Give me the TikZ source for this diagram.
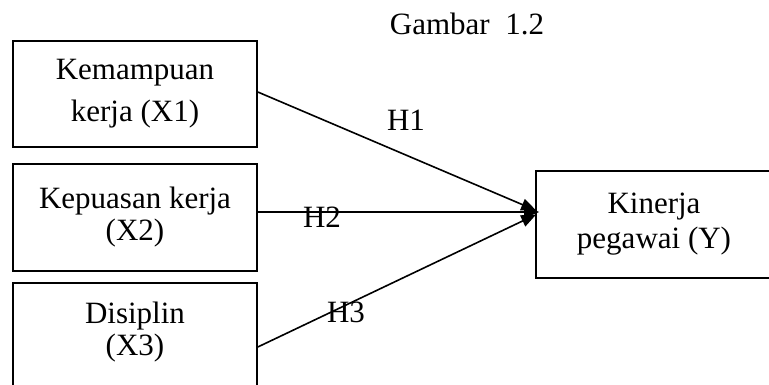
\documentclass[tikz,border=0pt]{standalone}
\usepackage{fontspec}
\setmainfont{Liberation Serif}
\usetikzlibrary{arrows.meta}
\begin{document}
\begin{tikzpicture}[x=1pt,y=-1pt,
  box/.style={draw=black,line width=1.6pt,rectangle,inner sep=0pt,align=center},
  lbl/.style={inner sep=0pt,anchor=base,font=\fontsize{31}{36}\selectfont},
  conn/.style={line width=1.6pt,-{Triangle[length=15pt,width=12pt]}}]
\useasboundingbox (0,0) rectangle (769,385);
\clip (0,0) rectangle (769,385);
\node[lbl] (title) at (467,35) {Gambar\ \ 1.2};
\node[box,minimum width=244pt,minimum height=106pt,font=\fontsize{31}{42}\selectfont] (b1) at (135,94) {Kemampuan\\kerja (X1)};
\node[box,minimum width=244pt,minimum height=107pt,font=\fontsize{31}{32}\selectfont] (b2) at (135,217.5) {Kepuasan kerja\\(X2)};
\node[box,minimum width=244pt,minimum height=112pt,text depth=21pt,font=\fontsize{31}{32}\selectfont] (b3) at (135,339) {Disiplin\\(X3)};
\node[box,minimum width=236pt,minimum height=107pt,font=\fontsize{31}{35}\selectfont] (y) at (654,224.5) {Kinerja\\pegawai (Y)};
\draw[conn] ([yshift=2pt]b1.east) -- ([xshift=1pt,yshift=14pt]y.west);
\draw[conn] ([yshift=5.5pt]b2.east) -- ([xshift=4pt,yshift=12.5pt]y.west);
\draw[conn] ([yshift=-8pt]b3.east) -- ([xshift=1pt,yshift=10pt]y.west);
\node[lbl] (h1) at (406,131) {H1};
\node[lbl] (h2) at (322,227) {H2};
\node[lbl] (h3) at (346,322) {H3};
\end{tikzpicture}
\end{document}
